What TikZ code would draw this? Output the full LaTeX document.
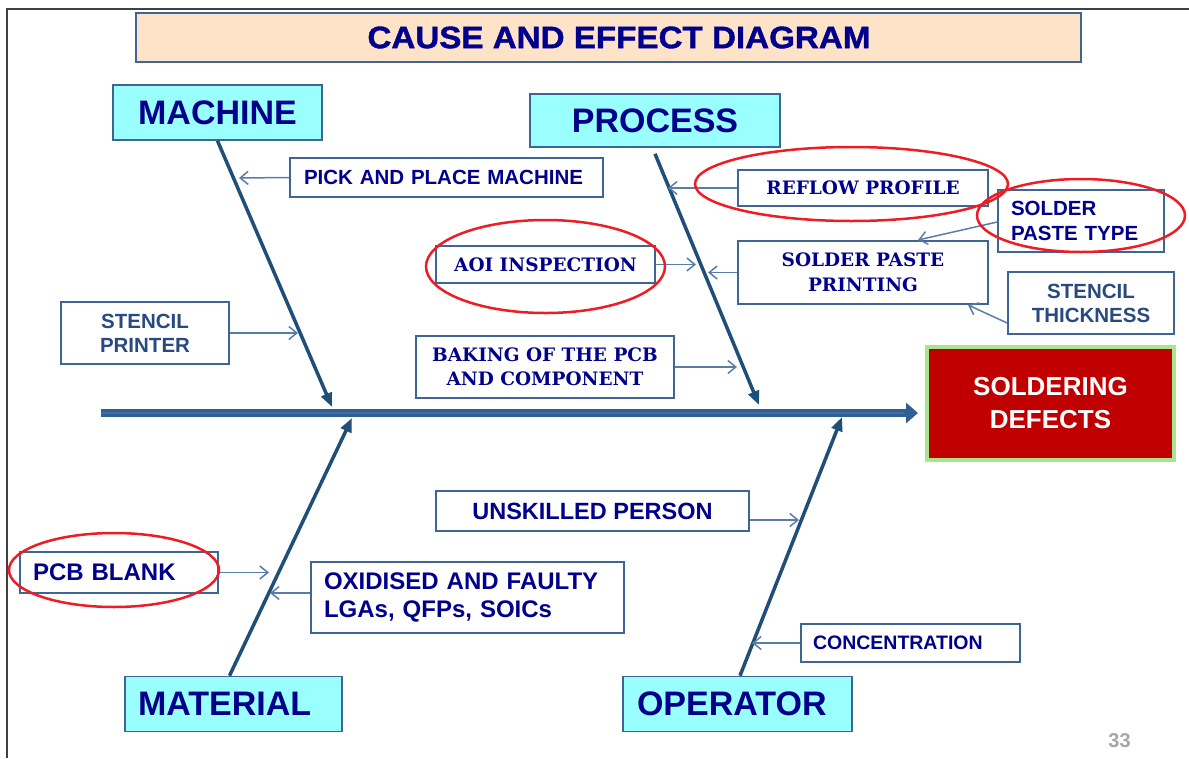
\documentclass[tikz,border=0pt]{standalone}
\usepackage{fontspec}
\setmainfont{Liberation Sans}
\newfontfamily\slabfont{DejaVu Serif}
\newfontfamily\bannerfont{Liberation Sans Bold}[FakeStretch=1.07, FakeBold=1.2]
\usetikzlibrary{arrows.meta}

\definecolor{navytext}{HTML}{00008C}
\definecolor{steeltext}{HTML}{284A7E}
\definecolor{boxline}{HTML}{3F6595}
\definecolor{feeder}{HTML}{5A7DA8}
\definecolor{bonecol}{HTML}{1F4E79}
\definecolor{spinecol}{HTML}{2F5F93}
\definecolor{spinelight}{HTML}{3E6FA5}
\definecolor{headfill}{HTML}{99FFFF}
\definecolor{titlefill}{HTML}{FFE3C8}
\definecolor{effectred}{HTML}{C00000}
\definecolor{effectrim}{HTML}{A6E68C}
\definecolor{ringred}{HTML}{EE1C24}
\definecolor{framegray}{HTML}{404040}
\definecolor{pagenum}{HTML}{A6A6A6}

\tikzset{
  causebox/.style={draw=boxline, line width=1.6pt, fill=white, inner sep=0pt, text=navytext},
  headbox/.style={draw=boxline, line width=1.6pt, fill=headfill, inner sep=0pt, text=navytext,
    font=\fontsize{34}{40}\selectfont\bfseries},
  sanssmall/.style={font=\fontsize{20.5}{24}\selectfont\bfseries},
  sanslarge/.style={font=\fontsize{24}{28}\selectfont\bfseries},
  slab/.style={font=\slabfont\fontsize{18.5}{24.5}\selectfont\bfseries},
  feed/.style={draw=feeder, line width=1.5pt, -{Straight Barb[length=8pt,width=13pt]}},
  bone/.style={draw=bonecol, line width=3.5pt, -{Triangle[length=14pt,width=11pt]}},
  ring/.style={draw=ringred, line width=2.5pt},
}

\begin{document}
\begin{tikzpicture}[x=1pt,y=-1pt]
\useasboundingbox (0,0) rectangle (1189,758);

% page frame
\draw[framegray, line width=1.5pt] (7,758) -- (7,9) -- (1189,9);

% title banner
\node[draw=boxline, line width=1.6pt, fill=titlefill, inner sep=0pt, text=navytext,
      minimum width=945pt, minimum height=49pt,
      font=\bannerfont\fontsize{31}{36}\selectfont] (title) at (608.5,37.5)
      {\hspace*{21pt}CAUSE AND EFFECT DIAGRAM};

% category heads
\node[headbox, minimum width=209pt, minimum height=55pt] (machine) at (217.5,112.5) {MACHINE};
\node[headbox, minimum width=250pt, minimum height=53pt] (process) at (655,120.5) {PROCESS};
\node[headbox, minimum width=217pt, minimum height=55pt, text width=191pt, align=left] (material) at (233.5,704) {MATERIAL};
\node[headbox, minimum width=229pt, minimum height=55pt, text width=201pt, align=left] (operator) at (737.5,704) {OPERATOR};

% effect
\node[draw=effectrim, line width=4pt, fill=effectred, inner sep=0pt,
      minimum width=247pt, minimum height=113pt, text=white, align=center,
      font=\fontsize{26}{33}\selectfont\bfseries] (effect) at (1050.5,403.5) {SOLDERING\\DEFECTS};

% spine and bones
\coordinate (spineL) at (101,413);
\coordinate (spineR) at (918,413);
\draw[spinecol, line width=8pt, -{Triangle[length=12pt,width=20pt]}] (spineL) -- (spineR);
\draw[spinelight, line width=2.5pt] (spineL) -- (904,413);

\coordinate (mTip) at (332,407);
\coordinate (pTip) at (759,405);
\coordinate (matTip) at (352,418);
\coordinate (oTip) at (842,417);
\draw[bone] (machine.south) -- (mTip);
\draw[bone] ([yshift=-6pt]process.south) -- (pTip);
\draw[bone] ([xshift=-4pt]material.north) -- (matTip);
\draw[bone] ([xshift=2.5pt]operator.north) -- (oTip);

% causes
\node[causebox, sanssmall, minimum width=313pt, minimum height=39pt, text width=285pt, align=left] (pick) at (446.5,177.5) {PICK AND PLACE MACHINE};
\node[causebox, sanssmall, text=steeltext, minimum width=168pt, minimum height=62pt, align=center] (stencilp) at (145,333) {STENCIL\\PRINTER};
\node[causebox, slab, minimum width=219pt, minimum height=37pt] (aoi) at (545.5,264.5) {AOI INSPECTION};
\node[causebox, slab, minimum width=258pt, minimum height=62pt, align=center] (baking) at (545,367) {BAKING OF THE PCB\\AND COMPONENT};
\node[causebox, slab, minimum width=250pt, minimum height=36pt] (reflow) at (863,188) {REFLOW PROFILE};
\node[causebox, slab, minimum width=250pt, minimum height=63pt, align=center] (spp) at (863,272.5) {SOLDER PASTE\\PRINTING};
\node[causebox, font=\fontsize{20.5}{25}\selectfont\bfseries, minimum width=166pt, minimum height=62pt, text width=140pt, align=left] (spt) at (1081,221) {SOLDER\\PASTE TYPE};
\node[causebox, sanssmall, text=steeltext, minimum width=166pt, minimum height=62pt, align=center] (stth) at (1091,303) {STENCIL\\THICKNESS};
\node[causebox, font=\fontsize{23.5}{28}\selectfont\bfseries, minimum width=313pt, minimum height=40pt] (unsk) at (592.5,511) {UNSKILLED PERSON};
\node[causebox, sanslarge, minimum width=198pt, minimum height=41pt, text width=172pt, align=left] (pcb) at (119,572.5) {PCB BLANK};
\node[causebox, sanslarge, minimum width=313pt, minimum height=71pt, text width=287pt, align=left] (oxid) at (467.5,597.5) {OXIDISED AND FAULTY\\LGAs, QFPs, SOICs};
\node[causebox, font=\fontsize{19.5}{23}\selectfont\bfseries, minimum width=219pt, minimum height=38pt, text width=195pt, align=left] (conc) at (910.5,643) {CONCENTRATION};

% feeder arrows onto the bones
\coordinate (fPick) at (239,178);
\coordinate (fStP) at (298,333);
\coordinate (fAoi) at (696,264.5);
\coordinate (fBake) at (737,367);
\coordinate (fRefl) at (668,188);
\coordinate (fSpp) at (708,272.5);
\coordinate (fSpt) at (918,240);
\coordinate (fStTh) at (968,305);
\coordinate (fUnsk) at (799,520);
\coordinate (fPcb) at (269,572.5);
\coordinate (fOxid) at (270,593);
\coordinate (fConc) at (752,643);
\draw[feed] (pick.west) -- (fPick);
\draw[feed] (stencilp.east) -- (fStP);
\draw[feed] (aoi.east) -- (fAoi);
\draw[feed] (baking.east) -- (fBake);
\draw[feed] (reflow.west) -- (fRefl);
\draw[feed] (spp.west) -- (fSpp);
\draw[feed] ([yshift=-1pt]spt.west) -- (fSpt);
\draw[feed] ([yshift=-20pt]stth.west) -- (fStTh);
\draw[feed] ([yshift=-9pt]unsk.east) -- (fUnsk);
\draw[feed] (pcb.east) -- (fPcb);
\draw[feed] ([yshift=4.5pt]oxid.west) -- (fOxid);
\draw[feed] (conc.west) -- (fConc);

% highlight rings
\draw[ring] (545.5,266.5) ellipse [x radius=119.5pt, y radius=46.5pt];
\draw[ring] (851.5,184) ellipse [x radius=156.5pt, y radius=37pt];
\draw[ring] (1081,215.5) ellipse [x radius=104pt, y radius=36.5pt];
\draw[ring] (114,570) ellipse [x radius=105pt, y radius=37pt];

% slide number
\node[text=pagenum, font=\fontsize{20}{24}\selectfont\bfseries, inner sep=0pt] (pageno) at (1119.5,741) {33};
\end{tikzpicture}
\end{document}
